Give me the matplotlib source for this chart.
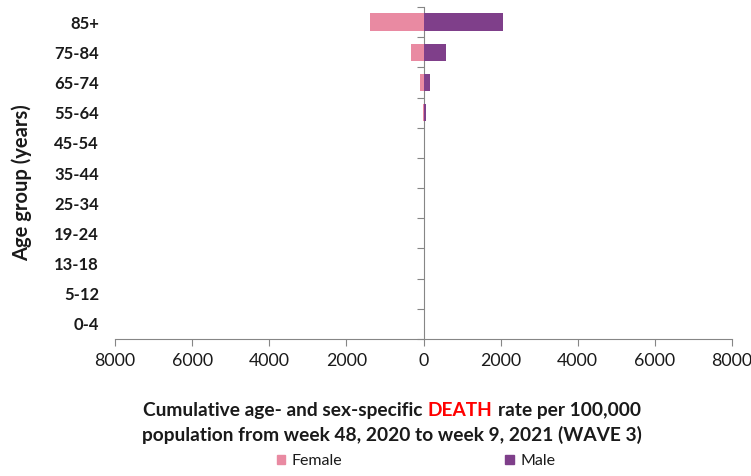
import matplotlib
matplotlib.use('Agg')
import matplotlib.pyplot as plt
import numpy as np
from matplotlib.patches import Patch
from matplotlib.offsetbox import TextArea, HPacker, VPacker, AnchoredOffsetbox

plt.rcParams['font.family'] = ['Lato', 'DejaVu Sans']

# data (rate per 100,000)
age_groups = ['0-4', '5-12', '13-18', '19-24', '25-34', '35-44',
              '45-54', '55-64', '65-74', '75-84', '85+']
female = [0, 0, 0, 0, 0, 0, 0, 10, 80, 320, 1380]
male = [0, 0, 0, 0, 0, 0, 0, 55, 165, 590, 2070]
x_ticks = [-8000, -6000, -4000, -2000, 0, 2000, 4000, 6000, 8000]

FEMALE_COL = '#E98AA2'
MALE_COL = '#7F3F8A'
AXIS_COL = '#868686'
TXT = '#1a1a1a'

fig = plt.figure(figsize=(7.51, 4.76), dpi=100)
ax = fig.add_axes([115 / 751, (476 - 339) / 476, (732 - 115) / 751, (339 - 7) / 476])

y = np.arange(len(age_groups))
ax.barh(y, -np.array(female), height=0.58, color=FEMALE_COL, linewidth=0)
ax.barh(y, male, height=0.58, color=MALE_COL, linewidth=0)

ax.set_xlim(-8000, 8000)
ax.set_ylim(-0.5, len(age_groups) - 0.5)

ax.set_xticks(x_ticks)
ax.set_xticklabels([str(abs(v)) for v in x_ticks], fontsize=12.8, color=TXT)
ax.tick_params(axis='x', direction='out', length=5, color=AXIS_COL, pad=5)

ax.set_yticks(y)
ax.set_yticklabels(age_groups, fontsize=12, fontweight='bold', color=TXT)
ax.tick_params(axis='y', length=0, pad=11.5)

for s in ['top', 'right', 'left']:
    ax.spines[s].set_visible(False)
ax.spines['bottom'].set_color(AXIS_COL)

# vertical axis line at zero with category boundary ticks
sec = ax.secondary_yaxis(0.5)
sec.set_yticks(np.arange(-0.5, len(age_groups), 1.0))
sec.set_yticklabels([])
sec.tick_params(direction='in', length=5, color=AXIS_COL)
for s in sec.spines.values():
    s.set_color(AXIS_COL)

fig.text(22 / 751, 1 - 183 / 476, 'Age group (years)', rotation=90,
         ha='center', va='center', fontsize=14.5, fontweight='bold', color=TXT)

# two-line axis title with DEATH in red
tp = dict(fontsize=13.8, fontweight='bold', color=TXT)
line1 = HPacker(children=[
    TextArea('Cumulative age- and sex-specific', textprops=tp),
    TextArea('DEATH', textprops=dict(tp, color='#FF0000')),
    TextArea('rate per 100,000', textprops=tp)], align='baseline', pad=0, sep=4)
line2 = TextArea('population from week 48, 2020 to week 9, 2021 (WAVE 3)', textprops=tp)
title_box = VPacker(children=[line1, line2], align='center', pad=0, sep=5)
anchored = AnchoredOffsetbox(loc='center', child=title_box, frameon=False,
                             bbox_to_anchor=(392 / 751, 1 - 423 / 476),
                             bbox_transform=fig.transFigure, borderpad=0, pad=0)
fig.add_artist(anchored)

handles = [Patch(color=FEMALE_COL, label='Female'), Patch(color=MALE_COL, label='Male')]
fig.legend(handles=handles, loc='center', bbox_to_anchor=(416 / 751, 1 - 461 / 476),
           ncol=2, frameon=False, fontsize=11.5, handlelength=0.55, handleheight=0.55,
           handletextpad=0.4, columnspacing=10.2, borderaxespad=0,
           labelcolor=TXT)

fig.savefig('out.png', dpi=100)
